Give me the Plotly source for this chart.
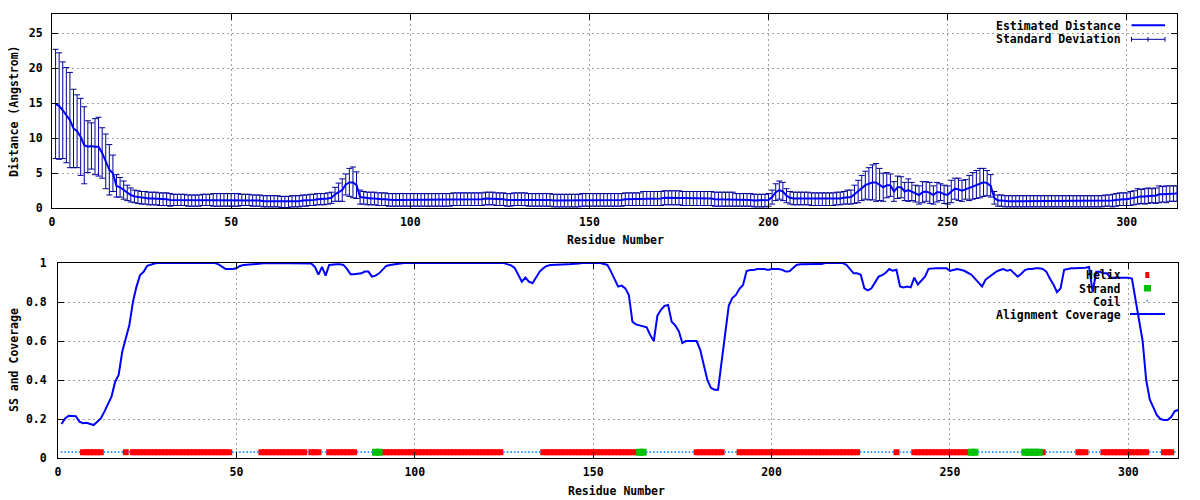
import plotly.graph_objects as go

# ---------------- data ----------------
residues = list(range(1, 315))

distance = [
    14.9, 14.6, 14.0, 13.3, 12.6, 11.4, 11.0, 10.2, 9.0, 8.8,
    8.9, 8.8, 8.8, 7.9, 6.7, 5.5, 5.0, 3.2, 3.0, 2.6,
    2.2, 1.9, 1.7, 1.6, 1.5, 1.5, 1.4, 1.4, 1.4, 1.3,
    1.3, 1.3, 1.2, 1.2, 1.2, 1.2, 1.2, 1.1, 1.1, 1.1,
    1.1, 1.2, 1.2, 1.2, 1.2, 1.2, 1.2, 1.2, 1.2, 1.2,
    1.2, 1.2, 1.2, 1.2, 1.2, 1.1, 1.1, 1.1, 1.0, 1.0,
    1.0, 1.0, 1.0, 0.9, 0.9, 0.9, 1.0, 1.0, 1.0, 1.1,
    1.1, 1.2, 1.2, 1.3, 1.3, 1.3, 1.4, 1.5, 2.0, 2.3,
    2.6, 3.4, 3.7, 3.7, 3.3, 1.6, 1.5, 1.4, 1.4, 1.4,
    1.3, 1.3, 1.3, 1.2, 1.2, 1.2, 1.2, 1.2, 1.2, 1.2,
    1.2, 1.2, 1.2, 1.2, 1.2, 1.2, 1.2, 1.2, 1.2, 1.2,
    1.2, 1.3, 1.3, 1.3, 1.3, 1.3, 1.3, 1.3, 1.3, 1.3,
    1.4, 1.4, 1.4, 1.3, 1.3, 1.3, 1.2, 1.2, 1.3, 1.3,
    1.3, 1.3, 1.2, 1.2, 1.2, 1.2, 1.2, 1.2, 1.2, 1.1,
    1.1, 1.1, 1.1, 1.1, 1.1, 1.1, 1.1, 1.2, 1.2, 1.2,
    1.2, 1.2, 1.2, 1.2, 1.2, 1.2, 1.2, 1.2, 1.2, 1.3,
    1.3, 1.3, 1.3, 1.3, 1.4, 1.4, 1.4, 1.4, 1.4, 1.4,
    1.5, 1.5, 1.5, 1.5, 1.5, 1.4, 1.4, 1.4, 1.4, 1.4,
    1.4, 1.4, 1.4, 1.4, 1.3, 1.3, 1.3, 1.3, 1.3, 1.3,
    1.2, 1.2, 1.2, 1.2, 1.2, 1.1, 1.1, 1.1, 1.1, 1.2,
    1.6, 2.3, 2.6, 2.4, 1.8, 1.5, 1.4, 1.4, 1.4, 1.4,
    1.4, 1.3, 1.3, 1.3, 1.3, 1.3, 1.3, 1.3, 1.4, 1.4,
    1.5, 1.6, 1.6, 2.0, 2.4, 2.9, 3.3, 3.5, 3.7, 3.7,
    3.4, 3.0, 3.3, 3.3, 2.4, 3.0, 3.0, 2.4, 2.6, 2.4,
    2.1, 1.9, 2.3, 2.4, 2.2, 1.9, 2.3, 2.3, 2.0, 1.9,
    2.4, 2.8, 2.7, 2.5, 2.7, 2.9, 3.2, 3.4, 3.6, 3.7,
    3.6, 3.2, 1.5, 1.1, 1.1, 1.0, 1.0, 1.0, 1.0, 1.0,
    1.0, 1.0, 1.0, 1.0, 1.0, 1.0, 1.0, 1.0, 1.0, 1.0,
    1.0, 1.0, 1.0, 1.0, 1.0, 1.0, 1.0, 1.0, 1.0, 1.0,
    1.0, 1.0, 1.0, 1.1, 1.1, 1.1, 1.2, 1.3, 1.3, 1.3,
    1.4, 1.5, 1.7, 1.7, 1.7, 1.8, 1.8, 1.8, 2.0, 2.0,
    2.0, 2.1, 2.1, 2.1,
]

std_dev = [
    7.8, 7.6, 6.9, 6.8, 6.8, 5.6, 5.2, 5.5, 5.5, 3.7,
    3.3, 4.0, 4.2, 3.6, 3.9, 3.6, 2.6, 1.6, 1.4, 1.3,
    1.1, 1.0, 0.9, 0.9, 0.9, 0.9, 0.9, 0.9, 0.9, 0.9,
    0.9, 0.9, 0.9, 0.8, 0.8, 0.8, 0.8, 0.8, 0.8, 0.8,
    0.8, 0.8, 0.8, 0.8, 0.9, 0.9, 0.9, 0.9, 0.9, 0.9,
    0.9, 0.9, 0.8, 0.8, 0.8, 0.8, 0.8, 0.8, 0.8, 0.8,
    0.8, 0.8, 0.8, 0.8, 0.8, 0.8, 0.8, 0.8, 0.8, 0.8,
    0.8, 0.8, 0.8, 0.8, 0.8, 0.8, 0.8, 0.8, 1.0, 1.3,
    1.6, 1.5, 2.0, 2.2, 1.9, 1.0, 0.9, 0.9, 0.9, 0.9,
    0.9, 0.9, 0.9, 0.9, 0.9, 0.9, 0.9, 0.9, 0.9, 0.9,
    0.9, 0.9, 0.9, 0.9, 0.9, 0.9, 0.9, 0.9, 0.9, 0.9,
    0.9, 0.9, 0.9, 0.9, 0.9, 0.9, 0.9, 0.9, 0.9, 0.9,
    0.9, 0.9, 0.9, 0.9, 0.9, 0.9, 0.9, 0.9, 0.9, 0.9,
    0.9, 0.9, 0.9, 0.9, 0.9, 0.9, 0.9, 0.9, 0.9, 0.9,
    0.9, 0.9, 0.9, 0.9, 0.9, 0.9, 0.9, 0.9, 0.9, 0.9,
    0.9, 0.9, 0.9, 0.9, 0.9, 0.9, 0.9, 0.9, 0.9, 0.9,
    0.9, 0.9, 0.9, 0.9, 1.0, 1.0, 1.0, 1.0, 1.0, 1.0,
    1.0, 1.0, 1.0, 1.0, 1.0, 1.0, 1.0, 1.0, 1.0, 1.0,
    1.0, 1.0, 1.0, 1.0, 1.0, 1.0, 1.0, 1.0, 1.0, 1.0,
    0.9, 0.9, 0.9, 0.9, 0.9, 0.9, 0.9, 0.9, 0.9, 0.9,
    1.0, 1.2, 1.3, 1.3, 1.0, 0.9, 0.9, 0.9, 0.9, 0.9,
    0.9, 0.9, 0.9, 0.9, 0.9, 0.9, 0.9, 0.9, 0.9, 0.9,
    0.9, 1.0, 1.0, 1.3, 1.6, 1.8, 2.0, 2.3, 2.5, 2.7,
    2.3, 2.0, 1.8, 1.6, 1.4, 1.6, 1.5, 1.3, 1.6, 1.3,
    1.2, 1.3, 1.5, 1.4, 1.5, 1.3, 1.4, 1.2, 1.3, 1.3,
    1.6, 1.5, 1.6, 1.5, 1.4, 1.8, 1.9, 2.0, 2.1, 2.0,
    1.8, 1.6, 0.9, 0.8, 0.8, 0.8, 0.8, 0.8, 0.8, 0.8,
    0.8, 0.8, 0.8, 0.8, 0.8, 0.8, 0.8, 0.8, 0.8, 0.8,
    0.8, 0.8, 0.8, 0.8, 0.8, 0.8, 0.8, 0.8, 0.8, 0.8,
    0.8, 0.8, 0.8, 0.8, 0.8, 0.9, 0.9, 0.9, 0.9, 0.9,
    1.0, 1.0, 1.1, 1.0, 1.1, 1.1, 1.0, 1.1, 1.2, 1.1,
    1.2, 1.1, 1.1, 1.1,
]

coverage = [
    0.174, 0.203, 0.217, 0.217, 0.214, 0.186, 0.178, 0.181, 0.173, 0.169,
    0.186, 0.203, 0.238, 0.280, 0.315, 0.390, 0.426, 0.545, 0.614, 0.682,
    0.800, 0.879, 0.938, 0.955, 0.986, 0.993, 0.997, 1.0, 1.0, 1.0,
    1.0, 1.0, 1.0, 1.0, 1.0, 1.0, 1.0, 1.0, 1.0, 1.0,
    1.0, 1.0, 1.0, 1.0, 0.993, 0.980, 0.969, 0.969, 0.969, 0.973,
    0.985, 0.990, 0.991, 0.991, 0.995, 0.995, 0.997, 1.0, 1.0, 1.0,
    1.0, 1.0, 1.0, 1.0, 1.0, 1.0, 1.0, 1.0, 1.0, 1.0,
    0.997, 0.980, 0.940, 0.980, 0.935, 0.990, 0.993, 0.993, 0.993, 0.990,
    0.970, 0.942, 0.942, 0.945, 0.947, 0.956, 0.956, 0.930, 0.935, 0.947,
    0.964, 0.985, 0.990, 0.993, 0.995, 0.998, 1.0, 1.0, 1.0, 1.0,
    1.0, 1.0, 1.0, 1.0, 1.0, 1.0, 1.0, 1.0, 1.0, 1.0,
    1.0, 1.0, 1.0, 1.0, 1.0, 1.0, 1.0, 1.0, 1.0, 1.0,
    1.0, 1.0, 1.0, 1.0, 1.0, 0.993, 0.988, 0.975, 0.940, 0.904,
    0.925, 0.904, 0.896, 0.925, 0.956, 0.973, 0.985, 0.990, 0.990, 0.990,
    0.993, 0.993, 0.993, 0.995, 0.995, 0.998, 1.0, 1.0, 1.0, 1.0,
    1.0, 1.0, 0.995, 0.990, 0.956, 0.921, 0.879, 0.884, 0.870, 0.836,
    0.699, 0.685, 0.680, 0.679, 0.670, 0.630, 0.600, 0.730, 0.760, 0.780,
    0.785, 0.699, 0.680, 0.650, 0.590, 0.600, 0.600, 0.600, 0.600, 0.555,
    0.480, 0.400, 0.360, 0.350, 0.350, 0.500, 0.660, 0.780, 0.820, 0.836,
    0.868, 0.887, 0.959, 0.964, 0.964, 0.969, 0.969, 0.969, 0.964, 0.969,
    0.969, 0.969, 0.965, 0.956, 0.958, 0.975, 0.990, 0.993, 0.993, 0.993,
    0.993, 0.993, 0.993, 0.995, 1.0, 1.0, 1.0, 1.0, 1.0, 1.0,
    0.990, 0.970, 0.947, 0.947, 0.940, 0.870, 0.860, 0.870, 0.904, 0.930,
    0.938, 0.950, 0.969, 0.960, 0.965, 0.880, 0.875, 0.879, 0.875, 0.925,
    0.890, 0.910, 0.930, 0.970, 0.973, 0.973, 0.973, 0.973, 0.973, 0.960,
    0.965, 0.969, 0.965, 0.960, 0.950, 0.940, 0.920, 0.900, 0.880, 0.915,
    0.930, 0.945, 0.956, 0.964, 0.969, 0.960, 0.965, 0.947, 0.930, 0.945,
    0.964, 0.969, 0.969, 0.973, 0.973, 0.969, 0.956, 0.921, 0.890, 0.850,
    0.870, 0.965, 0.969, 0.973, 0.973, 0.973, 0.973, 0.976, 0.980, 0.850,
    0.955, 0.955, 0.947, 0.947, 0.925, 0.925, 0.925, 0.925, 0.925, 0.925,
    0.920, 0.820, 0.720, 0.600, 0.400, 0.300, 0.260, 0.220, 0.200, 0.195,
    0.195, 0.210, 0.240, 0.246,
]

# secondary structure segments (first, last residue)
helix_ranges = [(7, 12), (19, 19), (21, 48), (57, 69), (71, 73), (76, 83),
                (91, 124), (136, 162), (179, 186), (191, 224), (235, 235),
                (240, 255), (276, 276), (286, 288), (293, 305), (310, 312)]
strand_ranges = [(89, 90), (163, 164), (256, 257), (271, 275)]
coil_last = 313
ss_level = 0.03

x_ticks = [0, 50, 100, 150, 200, 250, 300]
top_y_ticks = [0, 5, 10, 15, 20, 25]
bot_y_ticks = [0, 0.2, 0.4, 0.6, 0.8, 1.0]
bot_y_labels = ["0", "0.2", "0.4", "0.6", "0.8", "1"]

# ---------------- build ----------------
helix_res = [r for a, b in helix_ranges for r in range(a, b + 1)]
strand_res = [r for a, b in strand_ranges for r in range(a, b + 1)]
ss_taken = set(helix_res) | set(strand_res)
coil_res = [r for r in range(1, coil_last + 1) if r not in ss_taken]

W, H = 1200, 500
OFF = 8  # default page margin around the plot div


def fx(px):
    return (px - OFF) / W


def fy(py):
    return 1 - (py - OFF) / H


FONT = "DejaVu Sans Mono"
fnt = dict(family=FONT, size=11.5, color="black", weight="bold")

BLUE = "#0000ff"
NAVY = "#00009a"

fig = go.Figure()

# top panel
fig.add_trace(go.Scatter(
    x=residues, y=distance, mode="markers", xaxis="x", yaxis="y",
    marker=dict(size=1, color=NAVY, opacity=0),
    error_y=dict(type="data", array=std_dev, visible=True, color=NAVY,
                 thickness=1, width=3),
    showlegend=False, name="Standard Deviation"))
fig.add_trace(go.Scatter(
    x=residues, y=distance, mode="lines", xaxis="x", yaxis="y",
    line=dict(color=BLUE, width=2), showlegend=False,
    name="Estimated Distance"))

# bottom panel
fig.add_trace(go.Scatter(
    x=helix_res, y=[ss_level] * len(helix_res), mode="markers",
    xaxis="x2", yaxis="y2",
    marker=dict(symbol="square", size=6, color="#ff0000", line=dict(width=0)),
    showlegend=False, name="Helix"))
fig.add_trace(go.Scatter(
    x=strand_res, y=[ss_level] * len(strand_res), mode="markers",
    xaxis="x2", yaxis="y2",
    marker=dict(symbol="square", size=7, color="#00c000", line=dict(width=0)),
    showlegend=False, name="Strand"))
fig.add_trace(go.Scatter(
    x=coil_res, y=[ss_level] * len(coil_res), mode="markers",
    xaxis="x2", yaxis="y2",
    marker=dict(symbol="square", size=1.6, color="#1e8cff", line=dict(width=0)),
    showlegend=False, name="Coil"))
fig.add_trace(go.Scatter(
    x=residues, y=coverage, mode="lines", xaxis="x2", yaxis="y2",
    line=dict(color=BLUE, width=2), cliponaxis=False,
    showlegend=False, name="Alignment Coverage"))

axis_common = dict(
    showline=True, linecolor="black", linewidth=1, mirror="ticks",
    ticks="inside", ticklen=6, tickwidth=1, tickcolor="black",
    showgrid=True, gridcolor="#a0a0a0", gridwidth=1, griddash="2px,3px",
    zeroline=False, tickfont=fnt, automargin=False,
)

fig.update_layout(
    width=W, height=H, margin=dict(l=0, r=0, t=0, b=0, autoexpand=False),
    paper_bgcolor="white", plot_bgcolor="white", showlegend=False,
    xaxis=dict(domain=[fx(52), fx(1177)], range=[0, 314], anchor="y",
               tickvals=x_ticks, ticklabelstandoff=3, **axis_common),
    yaxis=dict(domain=[fy(208.3), fy(14.3)], range=[0, 27.7], anchor="x",
               tickvals=top_y_ticks, ticklabelstandoff=6, **axis_common),
    xaxis2=dict(domain=[fx(58), fx(1178.3)], range=[0, 314], anchor="y2",
                tickvals=x_ticks, ticklabelstandoff=3, **axis_common),
    yaxis2=dict(domain=[fy(458), fy(263)], range=[0, 1], anchor="x2",
                tickvals=bot_y_ticks, ticktext=bot_y_labels,
                ticklabelstandoff=8, **axis_common),
)

shapes = []
# white key areas (grid not drawn under the keys)
shapes.append(dict(type="rect", xref="paper", yref="paper", layer="between",
                   x0=fx(995), x1=fx(1174), y0=fy(46), y1=fy(15.5),
                   fillcolor="white", line=dict(width=0)))
shapes.append(dict(type="rect", xref="paper", yref="paper", layer="between",
                   x0=fx(995), x1=fx(1174), y0=fy(320), y1=fy(264.5),
                   fillcolor="white", line=dict(width=0)))
# top key samples
shapes.append(dict(type="line", xref="paper", yref="paper",
                   x0=fx(1131.5), x1=fx(1165), y0=fy(25.3), y1=fy(25.3),
                   line=dict(color=BLUE, width=2)))
shapes.append(dict(type="line", xref="paper", yref="paper",
                   x0=fx(1131.5), x1=fx(1165), y0=fy(39.3), y1=fy(39.3),
                   line=dict(color=NAVY, width=1)))
for xx in (1131.5, 1148, 1165):
    shapes.append(dict(type="line", xref="paper", yref="paper",
                       x0=fx(xx), x1=fx(xx), y0=fy(37), y1=fy(41.7),
                       line=dict(color=NAVY, width=1)))
# bottom key samples
shapes.append(dict(type="rect", xref="paper", yref="paper",
                   x0=fx(1145.3), x1=fx(1149.3), y0=fy(278), y1=fy(272),
                   fillcolor="#ff0000", line=dict(width=0)))
shapes.append(dict(type="rect", xref="paper", yref="paper",
                   x0=fx(1144), x1=fx(1151), y0=fy(291.5), y1=fy(285),
                   fillcolor="#00c000", line=dict(width=0)))
shapes.append(dict(type="rect", xref="paper", yref="paper",
                   x0=fx(1146.5), x1=fx(1148), y0=fy(301.5), y1=fy(300),
                   fillcolor="#1e8cff", line=dict(width=0)))
shapes.append(dict(type="line", xref="paper", yref="paper",
                   x0=fx(1130), x1=fx(1165), y0=fy(314), y1=fy(314),
                   line=dict(color=BLUE, width=2)))
fig.update_layout(shapes=shapes)

annotations = []


def txt(s, x, y, xanchor="center", angle=0):
    annotations.append(dict(text=s, x=fx(x), y=fy(y), xref="paper",
                            yref="paper", xanchor=xanchor, yanchor="middle",
                            showarrow=False, font=fnt, textangle=angle))


txt("Distance (Angstrom)", 14, 111, angle=-90)
txt("Residue Number", 615, 240)
txt("SS and Coverage", 14, 360, angle=-90)
txt("Residue Number", 617, 491)
txt("Estimated Distance", 1123, 25.5, xanchor="right")
txt("Standard Deviation", 1123, 39.3, xanchor="right")
txt("Helix", 1123, 275, xanchor="right")
txt("Strand", 1123, 288.5, xanchor="right")
txt("Coil", 1123, 301.5, xanchor="right")
txt("Alignment Coverage", 1123, 314.5, xanchor="right")
fig.update_layout(annotations=annotations)

fig.write_html("out.html")
